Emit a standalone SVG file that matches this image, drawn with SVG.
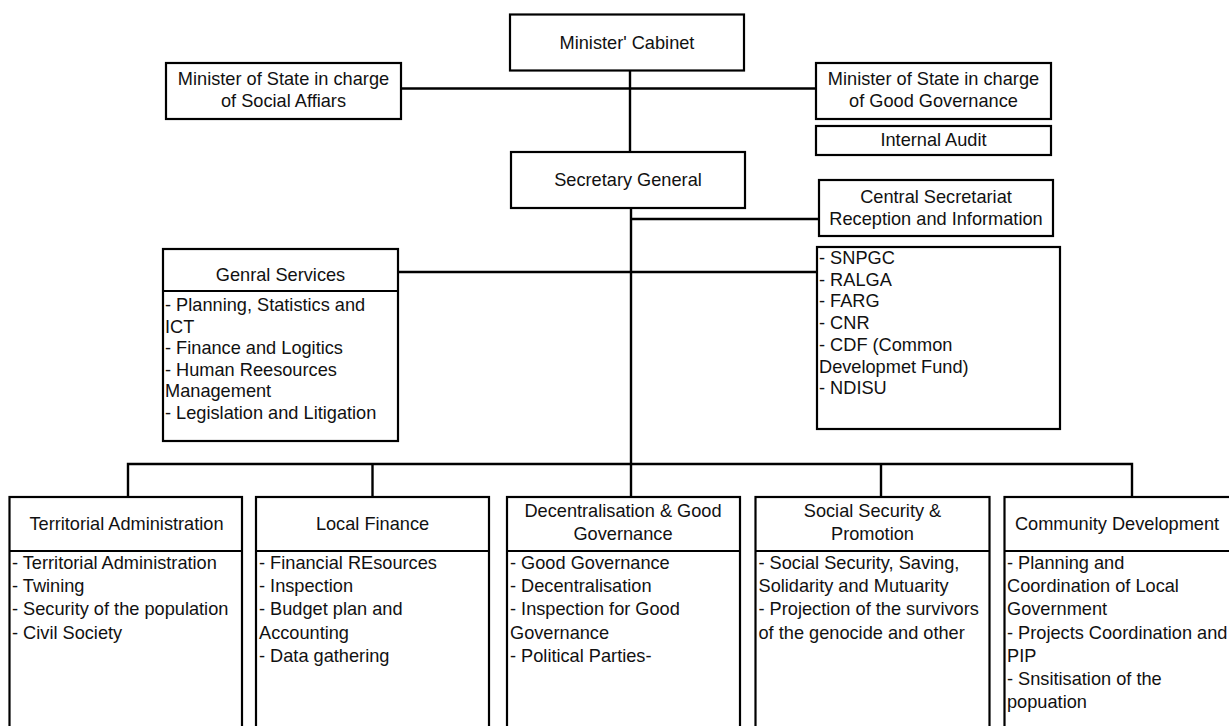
<svg xmlns="http://www.w3.org/2000/svg" width="1229" height="726" viewBox="0 0 1229 726">
<style>
  .box { fill: #ffffff; stroke: #000000; stroke-width: 2.2; }
  .sep { stroke: #000000; stroke-width: 2.2; fill: none; }
  .conn { stroke: #000000; stroke-width: 2.4; fill: none; }
  text { font-family: "Liberation Sans", Arial, sans-serif; font-size: 18.2px; fill: #111111; }
  .c { text-anchor: middle; }
</style>
<rect width="1229" height="726" fill="#ffffff"/>
<g id="connectors">
  <line class="conn" x1="630" y1="70" x2="630" y2="152"/>
  <line class="conn" x1="401" y1="88.5" x2="816" y2="88.5"/>
  <line class="conn" x1="631" y1="208" x2="631" y2="464"/>
  <line class="conn" x1="631" y1="219" x2="819" y2="219"/>
  <line class="conn" x1="398" y1="272" x2="817" y2="272"/>
  <polyline class="conn" points="128,497 128,464 1132,464 1132,497"/>
  <line class="conn" x1="372.5" y1="464" x2="372.5" y2="497"/>
  <line class="conn" x1="631" y1="464" x2="631" y2="497"/>
  <line class="conn" x1="881" y1="464" x2="881" y2="497"/>
</g>
<g id="minister-cabinet">
  <rect class="box" x="510" y="14.5" width="234" height="56"/>
  <text class="c" x="627" y="48.5">Minister' Cabinet</text>
</g>
<g id="minister-social">
  <rect class="box" x="166" y="63" width="235" height="56"/>
  <text class="c" x="283.5" y="84.5">Minister of State in charge</text>
  <text class="c" x="283.5" y="106.5">of Social Affiars</text>
</g>
<g id="minister-governance">
  <rect class="box" x="816" y="63" width="235" height="56"/>
  <text class="c" x="933.5" y="84.5">Minister of State in charge</text>
  <text class="c" x="933.5" y="106.5">of Good Governance</text>
</g>
<g id="internal-audit">
  <rect class="box" x="816" y="126" width="235" height="29"/>
  <text class="c" x="933.5" y="146">Internal Audit</text>
</g>
<g id="secretary-general">
  <rect class="box" x="511" y="152" width="234" height="56"/>
  <text class="c" x="628" y="186">Secretary General</text>
</g>
<g id="central-secretariat">
  <rect class="box" x="819" y="180" width="234" height="56"/>
  <text class="c" x="936" y="202.5">Central Secretariat</text>
  <text class="c" x="936" y="225">Reception and Information</text>
</g>
<g id="general-services">
  <rect class="box" x="163" y="249" width="235" height="192"/>
  <line class="sep" x1="163" y1="291" x2="398" y2="291"/>
  <text class="c" x="280.5" y="281">Genral Services</text>
  <text x="165" y="311">- Planning, Statistics and</text>
  <text x="165" y="332.5">ICT</text>
  <text x="165" y="354">- Finance and Logitics</text>
  <text x="165" y="375.5">- Human Reesources</text>
  <text x="165" y="397">Management</text>
  <text x="165" y="418.5">- Legislation and Litigation</text>
</g>
<g id="agencies">
  <rect class="box" x="817" y="247" width="243" height="182"/>
  <text x="819" y="264">- SNPGC</text>
  <text x="819" y="285.7">- RALGA</text>
  <text x="819" y="307.4">- FARG</text>
  <text x="819" y="329.1">- CNR</text>
  <text x="819" y="350.8">- CDF (Common</text>
  <text x="819" y="372.5">Developmet Fund)</text>
  <text x="819" y="394.2">- NDISU</text>
</g>
<g id="territorial-administration">
  <rect class="box" x="9.5" y="497" width="232.5" height="240"/>
  <line class="sep" x1="9.5" y1="551" x2="242" y2="551"/>
  <text class="c" x="126.5" y="530">Territorial Administration</text>
  <text x="12" y="569">- Territorial Administration</text>
  <text x="12" y="592.2">- Twining</text>
  <text x="12" y="615.4">- Security of the population</text>
  <text x="12" y="638.6">- Civil Society</text>
</g>
<g id="local-finance">
  <rect class="box" x="256" y="497" width="233" height="240"/>
  <line class="sep" x1="256" y1="551" x2="489" y2="551"/>
  <text class="c" x="372.5" y="530">Local Finance</text>
  <text x="259" y="569">- Financial REsources</text>
  <text x="259" y="592.2">- Inspection</text>
  <text x="259" y="615.4">- Budget plan and</text>
  <text x="259" y="638.6">Accounting</text>
  <text x="259" y="661.8">- Data gathering</text>
</g>
<g id="decentralisation">
  <rect class="box" x="507" y="497" width="233" height="240"/>
  <line class="sep" x1="507" y1="551" x2="740" y2="551"/>
  <text class="c" x="623" y="517">Decentralisation &amp; Good</text>
  <text class="c" x="623" y="539.5">Governance</text>
  <text x="510" y="569">- Good Governance</text>
  <text x="510" y="592.2">- Decentralisation</text>
  <text x="510" y="615.4">- Inspection for Good</text>
  <text x="510" y="638.6">Governance</text>
  <text x="510" y="661.8">- Political Parties-</text>
</g>
<g id="social-security">
  <rect class="box" x="755.5" y="497" width="234" height="240"/>
  <line class="sep" x1="755.5" y1="551" x2="989.5" y2="551"/>
  <text class="c" x="872.5" y="517">Social Security &amp;</text>
  <text class="c" x="872.5" y="539.5">Promotion</text>
  <text x="758.5" y="569">- Social Security, Saving,</text>
  <text x="758.5" y="592.2">Solidarity and Mutuarity</text>
  <text x="758.5" y="615.4">- Projection of the survivors</text>
  <text x="758.5" y="638.6">of the genocide and other</text>
</g>
<g id="community-development">
  <rect class="box" x="1004.5" y="497" width="228" height="240"/>
  <line class="sep" x1="1004.5" y1="551" x2="1232.5" y2="551"/>
  <text class="c" x="1117" y="530">Community Development</text>
  <text x="1007" y="569">- Planning and</text>
  <text x="1007" y="592.2">Coordination of Local</text>
  <text x="1007" y="615.4">Government</text>
  <text x="1007" y="638.6">- Projects Coordination and</text>
  <text x="1007" y="661.8">PIP</text>
  <text x="1007" y="685">- Snsitisation of the</text>
  <text x="1007" y="708.2">popuation</text>
</g>
</svg>
